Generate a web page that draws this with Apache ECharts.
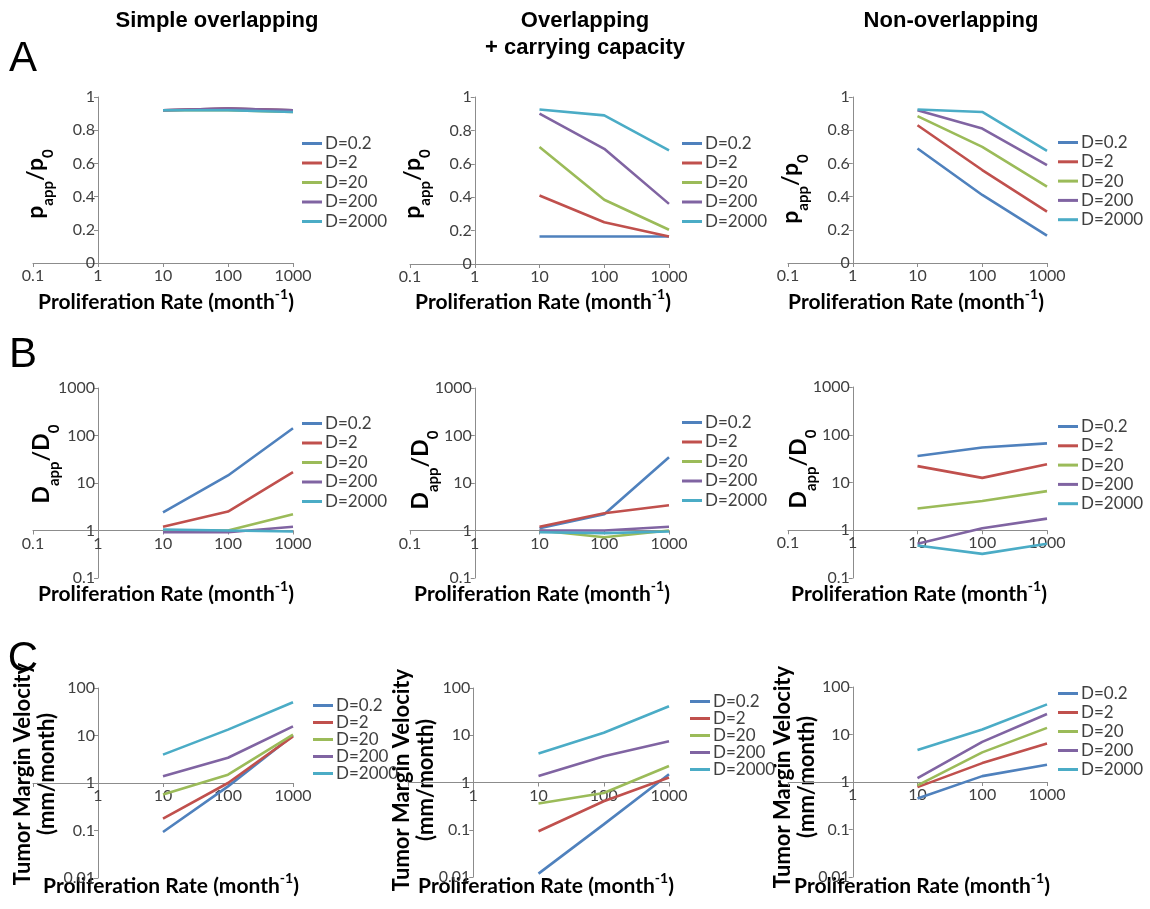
<!DOCTYPE html>
<html><head><meta charset="utf-8">
<script src="https://cdn.jsdelivr.net/npm/echarts@6/dist/echarts.min.js"></script>
<style>html,body{margin:0;padding:0;background:#fff}#c{width:1150px;height:909px}</style>
</head><body><div id="c"></div>
<script>
// ---------- data ----------
const proliferationRates = [10, 100, 1000];
const seriesNames = ['D=0.2', 'D=2', 'D=20', 'D=200', 'D=2000'];
const columnTitles = ['Simple overlapping', 'Overlapping\n+ carrying capacity', 'Non-overlapping'];
const rowLetters = ['A', 'B', 'C'];
// Row A: p_app/p_0
const aSimple = [[0.92,0.93,0.92],[0.92,0.93,0.92],[0.92,0.92,0.91],[0.92,0.93,0.92],[0.92,0.92,0.91]];
const aCarrying = [[0.165,0.165,0.165],[0.41,0.25,0.165],[0.70,0.385,0.205],[0.90,0.69,0.36],[0.925,0.89,0.68]];
const aNonOverlap = [[0.69,0.41,0.165],[0.83,0.56,0.31],[0.885,0.70,0.46],[0.92,0.81,0.59],[0.925,0.91,0.675]];
// Row B: D_app/D_0
const bSimple = [[2.4,14.4,142],[1.2,2.5,17],[1.0,1.0,2.2],[0.92,0.92,1.2],[1.05,1.0,0.95]];
const bCarrying = [[1.12,2.2,35],[1.2,2.3,3.4],[1.0,0.72,1.0],[1.0,1.0,1.2],[0.92,0.88,0.95]];
const bNonOverlap = [[36,54,66],[22,12.5,24],[2.85,4.1,6.6],[0.52,1.1,1.75],[0.48,0.32,0.52]];
// Row C: tumor margin velocity
const cSimple = [[0.093,0.85,10],[0.178,1.0,9.6],[0.57,1.5,10.4],[1.38,3.4,15.6],[3.95,13.3,50]];
const cCarrying = [[0.0118,0.13,1.5],[0.093,0.4,1.27],[0.36,0.6,2.24],[1.38,3.6,7.5],[4.1,11.3,41]];
const cNonOverlap = [[0.45,1.33,2.3],[0.78,2.5,6.5],[0.85,4.2,13.8],[1.2,7,27],[4.7,12.7,43]];

// ---------- styling / layout ----------
const colors = ['#4F81BD', '#C0504D', '#9BBB59', '#8064A2', '#4BACC6'];
const FONT = 'Lato, "Open Sans", sans-serif';
const panels = [
  {data:aSimple,     kind:'A', g:[33,97,260,166],  lg:[302,135,2.5]},
  {data:aCarrying,   kind:'A', g:[410,97,259,167], lg:[682,135,2.5]},
  {data:aNonOverlap, kind:'A', g:[788,97,259,166], lg:[1058,134,2.3]},
  {data:bSimple,     kind:'B', g:[33,388,260,190], lg:[302,415,2.5]},
  {data:bCarrying,   kind:'B', g:[410,388,259,190],lg:[682,414,2.5]},
  {data:bNonOverlap, kind:'B', g:[788,387,259,191],lg:[1058,418,2.3]},
  {data:cSimple,     kind:'C', g:[33,688,260,190], lg:[313,697,0]},
  {data:cCarrying,   kind:'C', g:[408,688,261,189],lg:[690,693,0]},
  {data:cNonOverlap, kind:'C', g:[788,687,259,190],lg:[1058,685,2]}
];

function fmt(v){ return String(Number((+v).toPrecision(3))); }

const grids = [], xAxes = [], yAxes = [], series = [], legends = [];
const axisColor = '#8c8c8c', labelColor = '#404040';
panels.forEach((p, i) => {
  const [left, top, width, height] = p.g;
  grids.push({left, top, width, height});
  let xOffset = 0;
  if (p.kind === 'B') xOffset = -height / 4;
  if (p.kind === 'C') xOffset = -height / 2;
  xAxes.push({
    type:'log', logBase:10, gridIndex:i, min:0.1, max:1000, offset:xOffset,
    axisLine:{onZero:false, lineStyle:{color:axisColor, width:1}},
    axisTick:{show:true, length:4, lineStyle:{color:axisColor}},
    splitLine:{show:false},
    axisLabel:{fontSize:16, color:labelColor, fontFamily:FONT, margin:5,
      formatter: v => (p.kind === 'C' && v < 0.5) ? '' : fmt(v)}
  });
  const yBase = {
    gridIndex:i, offset:-width / 4,
    axisLine:{show:true, onZero:false, lineStyle:{color:axisColor, width:1}},
    axisTick:{show:true, length:4, lineStyle:{color:axisColor}},
    splitLine:{show:false},
    axisLabel:{fontSize:16, color:labelColor, fontFamily:FONT, margin:3, formatter: v => fmt(v)}
  };
  if (p.kind === 'A') yAxes.push(Object.assign({type:'value', min:0, max:1, interval:0.2}, yBase));
  if (p.kind === 'B') yAxes.push(Object.assign({type:'log', logBase:10, min:0.1, max:1000}, yBase));
  if (p.kind === 'C') yAxes.push(Object.assign({type:'log', logBase:10, min:0.01, max:100}, yBase));
  p.data.forEach((vals, k) => {
    series.push({
      type:'line', name:seriesNames[k], xAxisIndex:i, yAxisIndex:i,
      data: proliferationRates.map((x, j) => [x, vals[j]]),
      symbol:'none', color:colors[k], lineStyle:{width:2.6, color:colors[k]},
      silent:true, animation:false, clip:false
    });
  });
  legends.push({
    orient:'vertical', left:p.lg[0], top:p.lg[1], itemGap:p.lg[2], padding:0,
    icon:'rect', itemWidth:20, itemHeight:3, selectedMode:false,
    data: seriesNames.map((n, k) => ({name:n, itemStyle:{color:colors[k]}})),
    textStyle:{fontSize:17, lineHeight:17, color:labelColor, fontFamily:FONT, padding:[0,0,0,-2]}
  });
});

// ---------- titles (graphic text) ----------
const g = [];
function txt(x, y, text, style, rot){
  g.push({type:'text', x, y, rotation:rot || 0, silent:true,
    style:Object.assign({text, align:'center', verticalAlign:'middle', fill:'#000',
      textAlign:'center', textVerticalAlign:'middle'}, style)});
}
const titleFont = 'bold 22px "Liberation Sans", Arial, sans-serif';
txt(217, 21, columnTitles[0], {font:titleFont});
txt(585, 34, columnTitles[1], {font:titleFont, lineHeight:27});
txt(951, 21, columnTitles[2], {font:titleFont});
const letterFont = '42px "Liberation Sans", Arial, sans-serif';
txt(23, 59, rowLetters[0], {font:letterFont});
txt(23, 355, rowLetters[1], {font:letterFont});
txt(23, 659, rowLetters[2], {font:letterFont});

const subRich = {
  m:{fontSize:23, fontWeight:'bold', fontFamily:FONT, lineHeight:31, verticalAlign:'top', fill:'#000', color:'#000'},
  s:{fontSize:15, fontWeight:'bold', fontFamily:FONT, lineHeight:15, verticalAlign:'bottom', fill:'#000', color:'#000'}
};
const pTitle = '{m|p}{s|app}{m|/p}{s|0}';
const dTitle = '{m|D}{s|app}{m|/D}{s|0}';
txt(40, 184, pTitle, {rich:subRich}, Math.PI/2);
txt(417, 184, pTitle, {rich:subRich}, Math.PI/2);
txt(795, 189, pTitle, {rich:subRich}, Math.PI/2);
txt(46, 464, dTitle, {rich:subRich}, Math.PI/2);
txt(425, 470, dTitle, {rich:subRich}, Math.PI/2);
txt(803, 469, dTitle, {rich:subRich}, Math.PI/2);
const vTitle = 'Tumor Margin Velocity\n(mm/month)';
const vFont = 'bold 22px ' + FONT;
txt(35, 774, vTitle, {font:vFont, lineHeight:24}, Math.PI/2);
txt(414, 780, vTitle, {font:vFont, lineHeight:24}, Math.PI/2);
txt(795, 777, vTitle, {font:vFont, lineHeight:24}, Math.PI/2);

const xRich = {
  b:{fontSize:21, fontWeight:'bold', fontFamily:FONT, lineHeight:26, verticalAlign:'bottom', fill:'#000', color:'#000'},
  s:{fontSize:14, fontWeight:'bold', fontFamily:FONT, lineHeight:14, verticalAlign:'top', fill:'#000', color:'#000'}
};
const xTitle = '{b|Proliferation Rate (month}{s|-1}{b|)}';
[[166,300],[543,300],[916,300],[166,592],[542,592],[919,592],[171,884],[546,884],[922,884]]
  .forEach(([x, y]) => txt(x, y, xTitle, {rich:xRich}));

const chart = echarts.init(document.getElementById('c'));
chart.setOption({
  backgroundColor:'#fff', animation:false,
  grid:grids, xAxis:xAxes, yAxis:yAxes, series, legend:legends, graphic:g
});
</script>
</body></html>
